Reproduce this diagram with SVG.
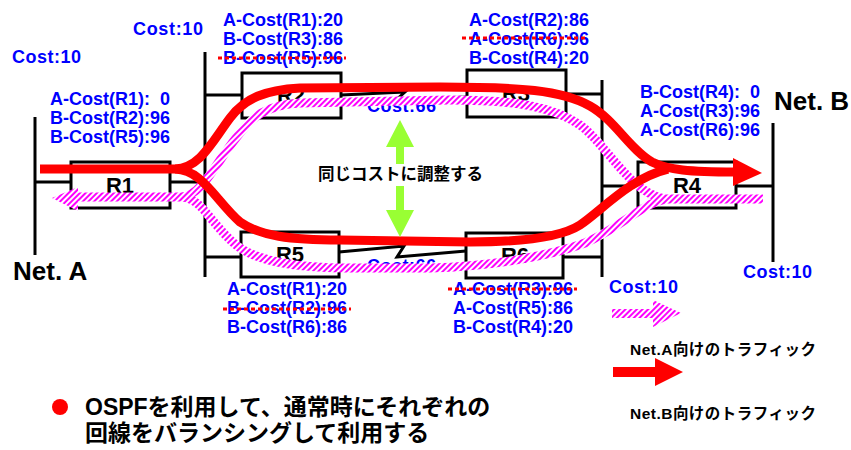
<svg xmlns="http://www.w3.org/2000/svg" width="851" height="450" viewBox="0 0 851 450">
<style>
.box{fill:#fff;stroke:#000;stroke-width:3}
.ln{fill:none;stroke:#000;stroke-width:3}
.rl{font-family:"Liberation Sans",Arial,sans-serif;font-weight:bold;font-size:22px;fill:#000;text-anchor:middle}
.c{font-family:"Liberation Sans",Arial,sans-serif;font-weight:bold;font-size:18px;fill:#0000ff}
.net{font-family:"Liberation Sans",Arial,sans-serif;font-weight:bold;font-size:26px;fill:#000}
.jp{font-family:"Liberation Sans","Noto Sans CJK JP",sans-serif;font-weight:bold;fill:#000}
.strike{stroke:#ff0000;stroke-width:3;stroke-dasharray:4 3;fill:none}
.red{fill:none;stroke:#ff0000;stroke-width:9;stroke-linejoin:round}
.mag{fill:none;stroke:url(#hatch);stroke-width:9}
</style>
<defs>
<pattern id="hatch" patternUnits="userSpaceOnUse" width="4" height="4" patternTransform="rotate(45)">
<rect width="4" height="4" fill="#fff"/>
<rect width="2" height="4" fill="#ff00ff"/>
</pattern>
</defs>
<rect width="851" height="450" fill="#fff"/>

<g id="connectors">
<line class="ln" x1="35" y1="182" x2="71" y2="182"/>
<line class="ln" x1="170" y1="182" x2="205" y2="182"/>
<line class="ln" x1="205" y1="52" x2="205" y2="277"/>
<line class="ln" x1="205" y1="95" x2="242" y2="95"/>
<line class="ln" x1="205" y1="257" x2="241" y2="257"/>
<polyline class="ln" points="341,95 405,92 396,100 467,97"/>
<polyline class="ln" points="339,252 404,246 397,257 466,251"/>
<line class="ln" x1="602" y1="80" x2="602" y2="277"/>
<line class="ln" x1="566" y1="94" x2="602" y2="94"/>
<line class="ln" x1="563" y1="257" x2="602" y2="257"/>
<line class="ln" x1="602" y1="186" x2="638" y2="186"/>
<line class="ln" x1="736" y1="186" x2="773" y2="186"/>
</g>

<g id="NetA">
<line class="ln" x1="35" y1="117" x2="35" y2="255"/>
<text class="net" x="13" y="280">Net. A</text>
</g>
<g id="NetB">
<line class="ln" x1="773" y1="123" x2="773" y2="262"/>
<text class="net" x="774" y="110">Net. B</text>
</g>

<g id="R1"><rect class="box" x="71" y="162" width="99" height="46"/><text class="rl" x="120" y="193">R1</text></g>
<g id="R2"><rect class="box" x="242" y="73" width="99" height="45"/><text class="rl" x="291" y="103">R2</text></g>
<g id="R3"><rect class="box" x="467" y="70" width="99" height="47"/><text class="rl" x="516" y="101">R3</text></g>
<g id="R5"><rect class="box" x="241" y="232" width="98" height="45"/><text class="rl" x="290" y="262">R5</text></g>
<g id="R6"><rect class="box" x="466" y="233" width="97" height="45"/><text class="rl" x="515" y="263">R6</text></g>
<g id="R4"><rect class="box" x="638" y="162" width="98" height="46"/><text class="rl" x="687" y="193">R4</text></g>

<g id="labels">
<text class="c" x="12" y="63" textLength="69">Cost:10</text>
<text class="c" x="133" y="35" textLength="70">Cost:10</text>
<text class="c" x="609" y="293" textLength="69">Cost:10</text>
<text class="c" x="743" y="278" textLength="69">Cost:10</text>
<text class="c" x="367" y="112" textLength="69">Cost:66</text>
<text class="c" x="367" y="272" textLength="69">Cost:66</text>

<text class="c" x="50" y="105" xml:space="preserve">A-Cost(R1):  0</text>
<text class="c" x="50" y="124">B-Cost(R2):96</text>
<text class="c" x="50" y="143">B-Cost(R5):96</text>

<text class="c" x="223" y="26">A-Cost(R1):20</text>
<text class="c" x="223" y="45">B-Cost(R3):86</text>
<text class="c" x="223" y="64">B-Cost(R5):96</text>
<line class="strike" x1="218" y1="58" x2="346" y2="58"/>

<text class="c" x="469" y="26">A-Cost(R2):86</text>
<text class="c" x="469" y="45">A-Cost(R6):96</text>
<text class="c" x="469" y="64">B-Cost(R4):20</text>
<line class="strike" x1="462" y1="38" x2="588" y2="38"/>

<text class="c" x="640" y="98" xml:space="preserve">B-Cost(R4):  0</text>
<text class="c" x="640" y="117">A-Cost(R3):96</text>
<text class="c" x="640" y="136">A-Cost(R6):96</text>

<text class="c" x="227" y="295">A-Cost(R1):20</text>
<text class="c" x="227" y="314">B-Cost(R2):96</text>
<text class="c" x="227" y="333">B-Cost(R6):86</text>
<line class="strike" x1="223" y1="309" x2="351" y2="309"/>

<text class="c" x="453" y="295">A-Cost(R3):96</text>
<text class="c" x="453" y="314">A-Cost(R5):86</text>
<text class="c" x="453" y="333">B-Cost(R4):20</text>
<line class="strike" x1="448" y1="289" x2="577" y2="289"/>
</g>

<g id="traffic">
<path class="mag" d="M78,197 L182,197 C202,195 216,163 236,138 C251,117 266,105 300,103 L450,100 C520,100 555,108 580,125 C605,142 628,192 665,199 L763,199"/>
<path class="mag" d="M182,197 C202,198 212,226 236,245 C256,261 292,267 340,268 L430,268 C500,266 555,254 585,243 C620,228 640,205 665,199"/>
<polygon points="52,198 78,187 78,211" fill="url(#hatch)"/>
<path class="red" d="M40,169 L175,169 C200,168 212,142 230,118 C245,98 265,90 300,88 L440,87 C520,87 562,90 590,106 C615,120 630,150 652,162 C668,170 690,172 735,172"/>
<path class="red" d="M175,169 C203,170 215,200 240,222 C260,236 290,240 340,240 L470,242 C520,242 560,238 580,225 C600,212 630,178 668,169"/>
<polygon points="733,158 762,173 733,186" fill="#ff0000"/>
</g>

<g id="adjust">
<polygon points="400,120 414,147 404,147 404,210 414,210 400,237 386,210 396,210 396,147 386,147" fill="#99ff33"/>
<rect x="392" y="164" width="16" height="22" fill="#fff"/>
<text class="jp" x="318" y="180" font-size="16.5">同じコストに調整する</text>
</g>

<g id="legend">
<polygon points="612,309 653,309 653,300 681,313 653,327 653,318 612,318" fill="url(#hatch)"/>
<text class="jp" x="630" y="355" font-size="15.5" textLength="186">Net.A向けのトラフィック</text>
<polygon points="613,367 655,367 655,358 683,372 655,386 655,377 613,377" fill="#ff0000"/>
<text class="jp" x="630" y="419" font-size="15.5" textLength="186">Net.B向けのトラフィック</text>
</g>

<g id="note">
<circle cx="60" cy="407" r="8" fill="#ff0000"/>
<text class="jp" x="85" y="415" font-size="23">OSPFを利用して、通常時にそれぞれの</text>
<text class="jp" x="85" y="441" font-size="23">回線をバランシングして利用する</text>
</g>
</svg>
